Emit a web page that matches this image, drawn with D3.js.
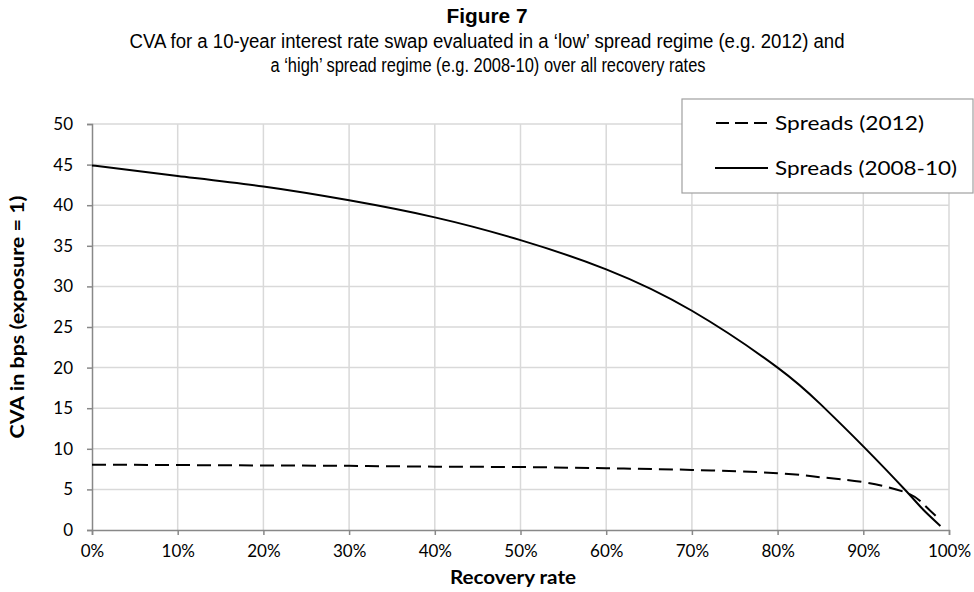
<!DOCTYPE html>
<html><head><meta charset="utf-8">
<script src="https://cdn.jsdelivr.net/npm/d3@7"></script>
<style>body{margin:0;background:#fff}svg{display:block}</style>
</head><body>
<script>
const recovery = [0,10,20,30,40,50,60,70,80,85,90,95,97,99];
const spreads2008 = [44.9,43.6,42.3,40.6,38.5,35.7,32.1,27.0,20.0,15.5,10.3,4.8,2.5,0.5];
const spreads2012 = [8.05,8.0,7.95,7.9,7.8,7.75,7.6,7.4,7.0,6.5,5.9,4.6,3.2,1.2];
const xTicks = [0,10,20,30,40,50,60,70,80,90,100];
const yTicks = [0,5,10,15,20,25,30,35,40,45,50];
const seriesNames = ["Spreads (2012)","Spreads (2008-10)"];

const W=974,H=592;
const svg=d3.select("body").append("svg").attr("width",W).attr("height",H);
const x=d3.scaleLinear().domain([0,100]).range([92,949]);
const y=d3.scaleLinear().domain([0,50]).range([530,124]);
const tickFont="Lato, 'Open Sans', sans-serif";

// gridlines
svg.append("g").selectAll("line.h").data(yTicks.filter(d=>d>0)).join("line")
  .attr("x1",x(0)).attr("x2",x(100)).attr("y1",d=>y(d)).attr("y2",d=>y(d))
  .attr("stroke","#d9d9d9").attr("stroke-width",1.5);
svg.append("g").selectAll("line.v").data(xTicks.filter(d=>d>0)).join("line")
  .attr("x1",d=>x(d)).attr("x2",d=>x(d)).attr("y1",y(0)).attr("y2",y(50))
  .attr("stroke","#d9d9d9").attr("stroke-width",1.5);

// axes
const xAxis=svg.append("g").attr("transform",`translate(0,${y(0)})`)
  .call(d3.axisBottom(x).tickValues(xTicks).tickFormat(d=>d+"%").tickSize(5).tickPadding(10));
const yAxis=svg.append("g").attr("transform",`translate(${x(0)},0)`)
  .call(d3.axisLeft(y).tickValues(yTicks).tickSize(5).tickPadding(14));
[xAxis,yAxis].forEach(a=>{
  a.selectAll("path,line").attr("stroke","#888").attr("stroke-width",1.5);
  a.selectAll("text").attr("font-family",tickFont).attr("font-size",17).attr("fill","#000");
});

// lines
const line=vals=>d3.line().x((d,i)=>x(recovery[i])).y(d=>y(d)).curve(d3.curveNatural)(vals);
svg.append("path").attr("d",line(spreads2012)).attr("fill","none").attr("stroke","#000")
  .attr("stroke-width",2).attr("stroke-dasharray","14,7");
svg.append("path").attr("d",line(spreads2008)).attr("fill","none").attr("stroke","#000")
  .attr("stroke-width",2);

// legend
const lg=svg.append("g");
lg.append("rect").attr("x",682).attr("y",99).attr("width",291).attr("height",94)
  .attr("fill","#fff").attr("stroke","#a0a0a0").attr("stroke-width",1.2);
[[123,"14,7",149],[168,null,182]].forEach((r,i)=>{
  const l=lg.append("line").attr("x1",715).attr("x2",768).attr("y1",r[0]).attr("y2",r[0])
    .attr("stroke","#000").attr("stroke-width",2);
  if(r[1]) l.attr("stroke-dasharray","13,6").attr("stroke-dashoffset",-1);
  lg.append("text").attr("x",775).attr("y",r[0]).attr("dy","0.35em")
    .attr("font-family",tickFont).attr("font-size",20)
    .attr("textLength",r[2]).attr("lengthAdjust","spacingAndGlyphs").text(seriesNames[i]);
});

// titles
const tf="'Liberation Sans Narrow', 'Liberation Sans', Arial, sans-serif";
svg.append("text").attr("x",487).attr("y",23).attr("text-anchor","middle")
  .attr("font-family",tf).attr("font-weight","bold").attr("font-size",20)
  .attr("textLength",81).attr("lengthAdjust","spacingAndGlyphs")
  .text("Figure 7");
svg.append("text").attr("x",487).attr("y",48).attr("text-anchor","middle")
  .attr("font-family",tf).attr("font-size",20)
  .attr("textLength",715).attr("lengthAdjust","spacingAndGlyphs")
  .text("CVA for a 10-year interest rate swap evaluated in a \u2018low\u2019 spread regime (e.g. 2012) and");
svg.append("text").attr("x",488).attr("y",72).attr("text-anchor","middle")
  .attr("font-family",tf).attr("font-size",20)
  .attr("textLength",435).attr("lengthAdjust","spacingAndGlyphs")
  .text("a \u2018high\u2019 spread regime (e.g. 2008-10) over all recovery rates");

svg.append("text").attr("x",513).attr("y",584).attr("text-anchor","middle")
  .attr("font-family",tickFont).attr("font-weight","bold").attr("font-size",19)
  .attr("textLength",126).attr("lengthAdjust","spacingAndGlyphs")
  .text("Recovery rate");
svg.append("text").attr("transform","translate(24,317) rotate(-90)").attr("text-anchor","middle")
  .attr("font-family",tickFont).attr("font-weight","bold").attr("font-size",19)
  .attr("textLength",243).attr("lengthAdjust","spacingAndGlyphs")
  .text("CVA in bps (exposure = 1)");
</script>
</body></html>
